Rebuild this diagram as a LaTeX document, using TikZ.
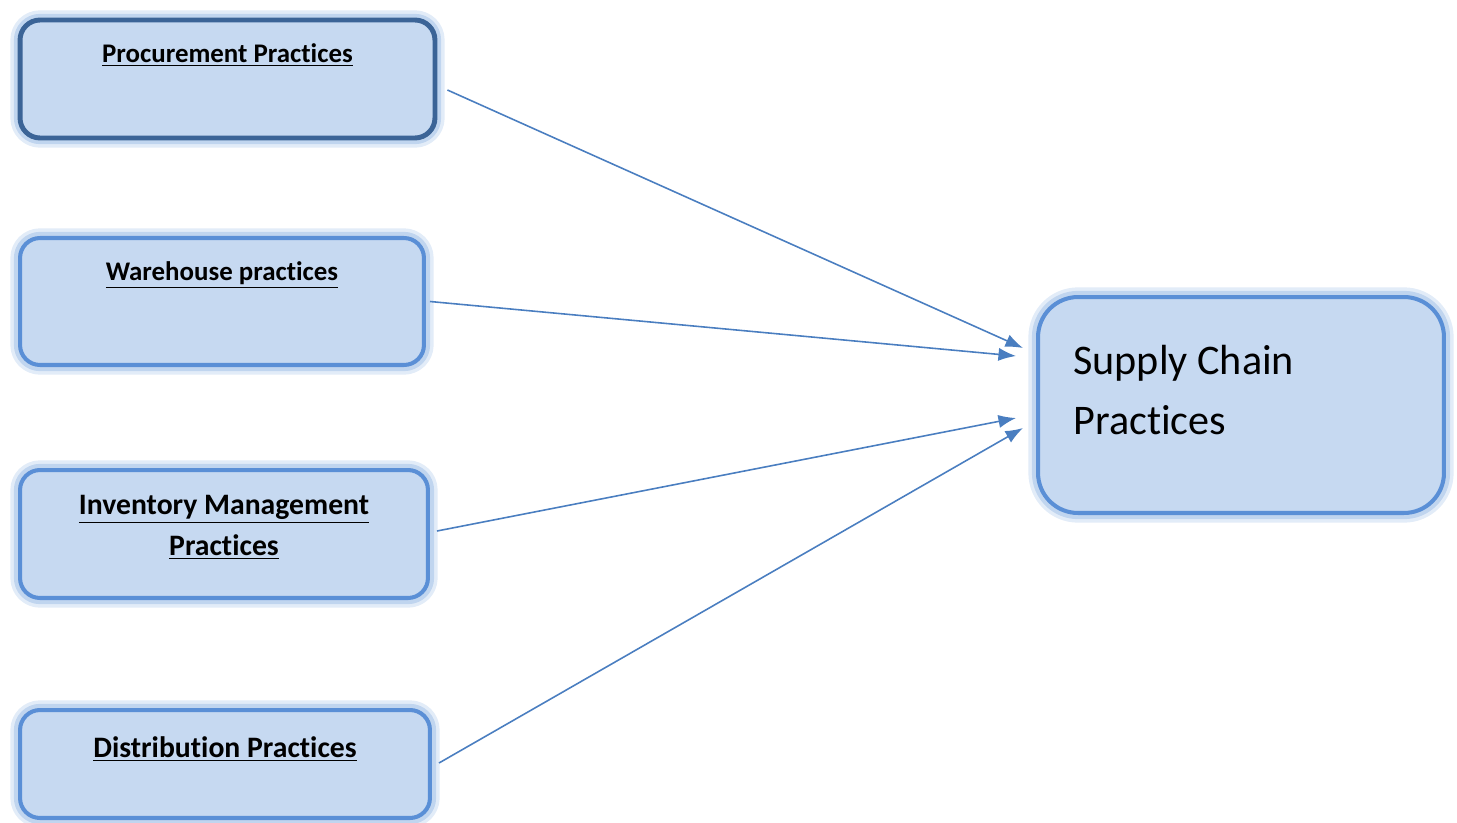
\documentclass[tikz,border=0pt]{standalone}
\usepackage{fontspec}
\setmainfont[Ligatures=NoCommon]{Carlito}
\usetikzlibrary{arrows.meta}
\definecolor{boxfill}{HTML}{C6D9F1}
\definecolor{boxline}{HTML}{5A8FD6}
\definecolor{darkline}{HTML}{3B6497}
\definecolor{arrowc}{HTML}{4A7EC0}
\definecolor{glowc}{HTML}{8DB3E2}
\tikzset{
  box/.style={draw=boxline, fill=boxfill, line width=2.3pt, rounded corners=0.4cm,
    preaction={draw=glowc, line width=11pt, opacity=0.25},
    preaction={draw=glowc, line width=7pt, opacity=0.4}},
  boxtext/.style={font=\fontsize{15.3}{23.3}\selectfont\bfseries, align=center},
  bigtext/.style={boxtext, font=\fontsize{16.9}{23.3}\selectfont\bfseries},
  link/.style={draw=arrowc, line width=0.9pt, -{Latex[length=10pt,width=7.5pt]}}
}
\begin{document}
\begin{tikzpicture}[x=0.02cm, y=-0.02cm, line join=round]
\useasboundingbox (0,0) rectangle (1457,822);
% Bốn hộp bên trái
\node[box, draw=darkline, line width=2.8pt, minimum width=8.3cm, minimum height=2.36cm] (proc) at (227.5,79) {};
\node[box, minimum width=8.08cm, minimum height=2.54cm] (ware) at (222,301.5) {};
\node[box, minimum width=8.16cm, minimum height=2.56cm] (inv) at (224,534) {};
\node[box, minimum width=8.2cm, minimum height=2.16cm] (dist) at (225,764) {};
% Hộp bên phải
\node[box, rounded corners=0.8cm, minimum width=8.12cm, minimum height=4.32cm] (supply) at (1241,405) {};
% Chữ trong hộp
\node[boxtext] (procT) at (227.5,55) {\underline{Procurement Practices}};
\node[boxtext] (wareT) at (222,275) {\underline{Warehouse practices}};
\node[bigtext] (invT) at (224,527.5) {\underline{Inventory Management}\\\underline{Practices}};
\node[bigtext] (distT) at (225,749) {\underline{Distribution Practices}};
\node[font=\fontsize{24}{34}\selectfont, align=left, anchor=west, inner sep=0pt] (supplyT) at (1073,390) {Supply Chain\\Practices};
% Điểm đến của mũi tên
\coordinate (in1) at ([shift={(-13,-57)}]supply.west);
\coordinate (in2) at ([shift={(-20,-49)}]supply.west);
\coordinate (in3) at ([shift={(-20,13)}]supply.west);
\coordinate (in4) at ([shift={(-13,23)}]supply.west);
% Mũi tên
\draw[link] ([shift={(10,11)}]proc.east) -- (in1);
\draw[link] ([shift={(4,0)}]ware.east) -- (in2);
\draw[link] ([shift={(7,-3)}]inv.east) -- (in3);
\draw[link] ([shift={(7,-1)}]dist.east) -- (in4);
\end{tikzpicture}
\end{document}
